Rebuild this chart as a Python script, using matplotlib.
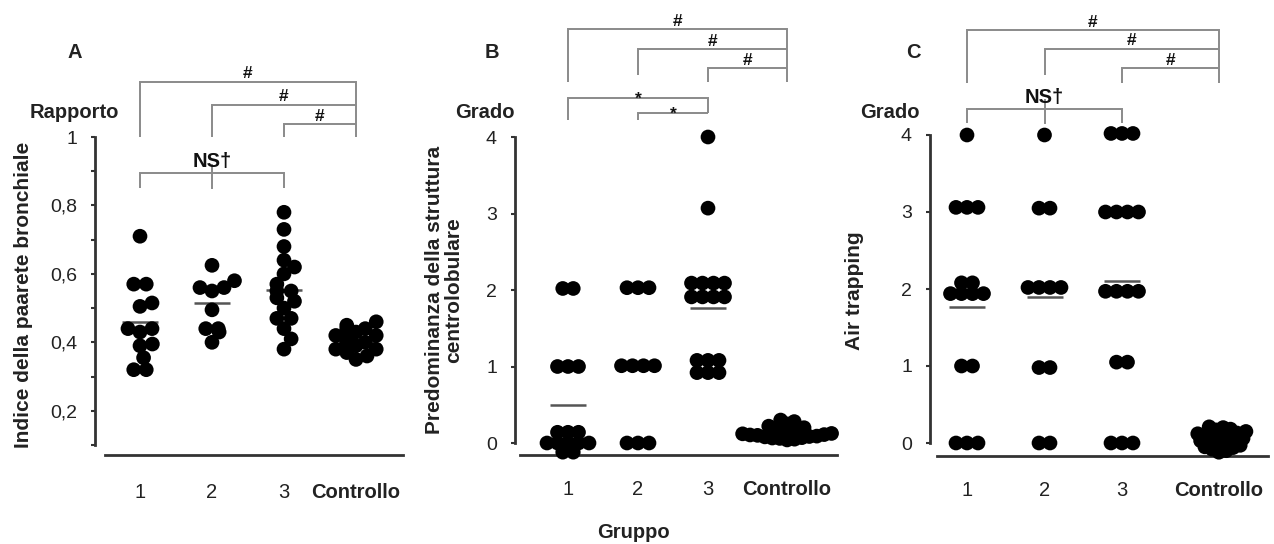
import numpy as np
import matplotlib
matplotlib.use("Agg")
import matplotlib.pyplot as plt

plt.rcParams['font.family'] = ['Liberation Sans', 'DejaVu Sans']

# ---------------- data ----------------
groups = ['1', '2', '3', 'Controllo']

# Panel A: bronchial wall index (ratio)
a_g1 = [0.71, 0.57, 0.57, 0.515, 0.505, 0.44, 0.44, 0.43, 0.395, 0.39, 0.355, 0.32, 0.32]
a_g2 = [0.625, 0.58, 0.56, 0.56, 0.55, 0.495, 0.44, 0.44, 0.43, 0.40]
a_g3 = [0.78, 0.73, 0.68, 0.64, 0.62, 0.60, 0.57, 0.55, 0.55, 0.53, 0.52, 0.50,
        0.47, 0.47, 0.44, 0.41, 0.38]
a_ctrl = [0.46, 0.45, 0.44, 0.44, 0.43, 0.42, 0.42, 0.41, 0.40, 0.40, 0.39, 0.38,
          0.38, 0.37, 0.36, 0.35]
a_means = [0.46, 0.515, 0.553, 0.40]
a_yticks = [0.2, 0.4, 0.6, 0.8, 1.0]
a_yticklabels = ['0,2', '0,4', '0,6', '0,8', '1']
a_yminor = [0.1, 0.3, 0.5, 0.7, 0.9]

# Panel B: centrilobular predominance (grade)
b_g1 = [2.02, 2.02, 1.0, 1.0, 1.0, 0.14, 0.14, 0.14, 0.0, 0.0, 0.0, 0.0, 0.0, -0.12, -0.12]
b_g2 = [2.03, 2.03, 2.03, 1.01, 1.01, 1.01, 1.01, 0.0, 0.0, 0.0]
b_g3 = [4.0, 3.07, 2.09, 2.09, 2.09, 2.09, 1.91, 1.91, 1.91, 1.91,
        1.08, 1.08, 1.08, 0.92, 0.92, 0.92]
b_ctrl = [0.05, 0.08, 0.10, 0.06, 0.12, 0.04, 0.09, 0.15, 0.11, 0.07, 0.20,
          0.25, 0.28, 0.22, 0.18, 0.105, 0.13, 0.065, 0.30, 0.16, 0.085, 0.125]
b_means = [0.50, 1.0, 1.77, 0.12]

# Panel C: air trapping (grade)
c_g1 = [4.0, 3.06, 3.06, 3.06, 2.08, 2.08, 1.94, 1.94, 1.94, 1.94, 1.0, 1.0, 0.0, 0.0, 0.0]
c_g2 = [4.0, 3.05, 3.05, 2.02, 2.02, 2.02, 2.02, 0.98, 0.98, 0.0, 0.0]
c_g3 = [4.02, 4.02, 4.02, 3.0, 3.0, 3.0, 3.0, 1.97, 1.97, 1.97, 1.97, 1.05, 1.05,
        0.0, 0.0, 0.0]
c_ctrl = [0.20, 0.18, 0.15, 0.12, 0.10, 0.08, 0.05, 0.02, 0.0, -0.03, -0.05, -0.08,
          -0.10, -0.12, 0.105, 0.13, 0.17, 0.06, -0.02, 0.03, -0.06, 0.21]
c_means = [1.76, 1.89, 2.10, 0.04]
bc_yticks = [0, 1, 2, 3, 4]

# ---------------- layout helpers ----------------
W, H = 1274, 544
fig = plt.figure(figsize=(W / 100, H / 100), dpi=100)

AX_COL = '#333333'
BR_COL = '#8a8a8a'
DOT = 112
FS = 14.5


def add_ax(left, right, top, bottom, xlim, ylim, xbounds, ybounds, xpad):
    ax = fig.add_axes([left / W, 1 - bottom / H, (right - left) / W, (bottom - top) / H])
    ax.set_xlim(*xlim)
    ax.set_ylim(*ylim)
    ax.patch.set_alpha(0)
    for s in ['top', 'right']:
        ax.spines[s].set_visible(False)
    for s in ['left', 'bottom']:
        ax.spines[s].set_color(AX_COL)
        ax.spines[s].set_linewidth(2.0)
    ax.spines['bottom'].set_bounds(*xbounds)
    ax.spines['left'].set_bounds(*ybounds)
    ax.tick_params(axis='y', which='both', length=3, width=1.5, color=AX_COL,
                   labelsize=14, pad=10, labelcolor='#222222')
    ax.tick_params(axis='x', length=0, labelsize=FS, pad=xpad, labelcolor='#222222')
    return ax


def swarm(vals, ppy, d):
    vals = np.asarray(vals, float)
    y = vals * ppy
    xs = np.zeros(len(vals))
    placed = []
    for i in np.argsort(y, kind='stable'):
        cands = [0.0]
        for j in placed:
            dy = y[i] - y[j]
            if abs(dy) < d:
                dx = np.sqrt(d * d - dy * dy)
                cands += [xs[j] + dx, xs[j] - dx]
        cands.sort(key=lambda c: (round(abs(c), 6), -c))
        for c in cands:
            if all((c - xs[j]) ** 2 + (y[i] - y[j]) ** 2 >= d * d - 1e-6 for j in placed):
                xs[i] = c
                break
        placed.append(i)
    for v in np.unique(vals):
        m = vals == v
        if m.sum() > 1:
            xs[m] -= xs[m].mean()
    return xs


def draw_points(ax, series, means, pos, ppx, ppy, dists, hw=18):
    for vals, mu, p, d in zip(series, means, pos, dists):
        xs = swarm(vals, ppy, d)
        ax.scatter(p + xs / ppx, vals, s=DOT, color='black', edgecolors='none',
                   zorder=3, clip_on=False)
        ax.plot([p - hw / ppx, p + hw / ppx], [mu, mu], color='#555555', lw=1.8,
                zorder=2, solid_capstyle='butt')
    ax.set_xticks(pos)
    ax.set_xticklabels(groups)
    ax.get_xticklabels()[-1].set_fontweight('bold')


def bracket(ax, x1, x2, y, y1b, y2b, label, off, fs=12.5):
    ax.plot([x1, x1, x2, x2], [y1b, y, y, y2b], color=BR_COL, lw=1.4,
            clip_on=False, solid_joinstyle='miter', solid_capstyle='butt')
    ax.annotate(label, xy=((x1 + x2) / 2, y), xytext=(0, off), textcoords='offset points',
                ha='center', va='baseline', fontsize=fs, fontweight='bold',
                color='#111111', annotation_clip=False)


def ftext(x, y, s, **kw):
    fig.text(x / W, 1 - y / H, s, ha='center', va='center', **kw)


# ---------------- Panel A ----------------
pa = [0, 1, 2, 3.0]
ppx_a, ppy_a = 72.0, 342.2
axA = add_ax(95, 403, 137, 455, ((95 - 140) / 72, (403 - 140) / 72), (1 - 318 / 342.2, 1.0),
             ((105 - 140) / 72, (403 - 140) / 72), (0.1, 1.0), 20)
axA.set_yticks(a_yticks)
axA.set_yticklabels(a_yticklabels)
axA.set_yticks(a_yminor, minor=True)
draw_points(axA, [a_g1, a_g2, a_g3, a_ctrl], a_means, pa, ppx_a, ppy_a,
            [12.5, 12.5, 12.5, 11.5])
bracket(axA, pa[0], pa[3], 1.161, 1.0, 1.0, '#', 2.5)
bracket(axA, pa[1], pa[3], 1.094, 1.0, 1.094, '#', 2.5)
bracket(axA, pa[2], pa[3], 1.038, 1.0, 1.038, '#', 2.5)
bracket(axA, pa[0], pa[2], 0.895, 0.851, 0.851, 'NS†', 4.0, fs=FS)
axA.plot([pa[1], pa[1]], [0.918, 0.851], color=BR_COL, lw=1.4, clip_on=False)

# ---------------- Panel B ----------------
pb = [0, 1, 2, 3.13]
ppx_b, ppy_b = 70.0, 76.5
axB = add_ax(515, 837, 137, 455, ((515 - 568) / 70, (837 - 568) / 70), (-12 / 76.5, 4.0),
             ((520 - 568) / 70, (837 - 568) / 70), (0, 4), 18)
axB.set_yticks(bc_yticks)
draw_points(axB, [b_g1, b_g2, b_g3, b_ctrl], b_means, pb, ppx_b, ppy_b,
            [10.5, 11.0, 11.0, 7.5])
bracket(axB, pb[0], pb[3], 5.41, 4.72, 4.72, '#', 2.5)
bracket(axB, pb[1], pb[3], 5.15, 4.81, 5.15, '#', 2.5)
bracket(axB, pb[2], pb[3], 4.90, 4.72, 4.90, '#', 2.5)
bracket(axB, pb[0], pb[2], 4.51, 4.22, 4.31, '*', -4.0)
bracket(axB, pb[1], pb[2], 4.31, 4.22, 4.31, '*', -4.0)

# ---------------- Panel C ----------------
pc = [0, 1, 2, 3.25]
ppx_c, ppy_c = 77.5, 77.0
axC = add_ax(930, 1268, 135, 456, ((930 - 967) / 77.5, (1268 - 967) / 77.5), (-13 / 77.0, 4.0),
             ((937 - 967) / 77.5, (1268 - 967) / 77.5), (0, 4), 18)
axC.set_yticks(bc_yticks)
draw_points(axC, [c_g1, c_g2, c_g3, c_ctrl], c_means, pc, ppx_c, ppy_c,
            [11.0, 11.0, 11.0, 7.5])
bracket(axC, pc[0], pc[3], 5.36, 4.68, 4.68, '#', 2.5)
bracket(axC, pc[1], pc[3], 5.12, 4.78, 5.12, '#', 2.5)
bracket(axC, pc[2], pc[3], 4.87, 4.68, 4.87, '#', 2.5)
bracket(axC, pc[0], pc[2], 4.34, 4.16, 4.16, 'NS†', 4.0, fs=FS)
axC.plot([pc[1], pc[1]], [4.45, 4.16], color=BR_COL, lw=1.4, clip_on=False)

# ---------------- texts ----------------
bold = dict(fontweight='bold', color='#222222')
ftext(75, 52, 'A', fontsize=FS, **bold)
ftext(492, 52, 'B', fontsize=FS, **bold)
ftext(913, 52, 'C', fontsize=FS, **bold)
ftext(74, 113, 'Rapporto', fontsize=FS, **bold)
ftext(485, 113, 'Grado', fontsize=FS, **bold)
ftext(890, 113, 'Grado', fontsize=FS, **bold)
ftext(24, 295, 'Indice della paarete bronchiale', rotation=90, fontsize=15, **bold)
ftext(444, 290, 'Predominanza della struttura\ncentrolobulare', rotation=90, fontsize=15,
      multialignment='center', linespacing=1.0, **bold)
ftext(855, 291, 'Air trapping', rotation=90, fontsize=15, **bold)
ftext(633, 533, 'Gruppo', fontsize=FS, **bold)

fig.savefig('out.png', dpi=100)
